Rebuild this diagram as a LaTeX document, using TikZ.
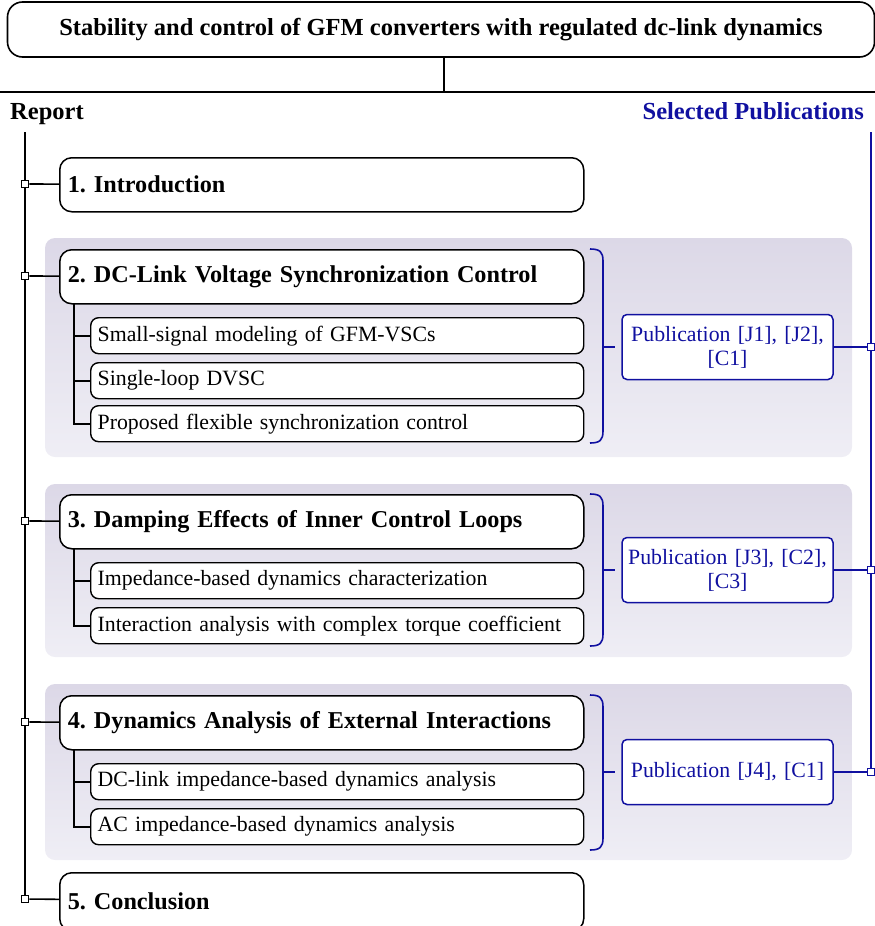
\documentclass[tikz,border=0pt]{standalone}
\usepackage{fontspec}
\setmainfont{Liberation Serif}
\usetikzlibrary{positioning}
\definecolor{pubblue}{RGB}{16,16,160}
\definecolor{paneltop}{RGB}{220,216,231}
\definecolor{panelbot}{RGB}{239,238,245}
\frenchspacing

\begin{document}
\begin{tikzpicture}[x=1pt,y=-1pt,
  titlebox/.style={draw, line width=1.6pt, rounded corners=15pt, minimum width=867pt, minimum height=55pt, font=\fontsize{24.5}{28}\selectfont\bfseries},
  mainbox/.style={draw, line width=1.5pt, rounded corners=12pt, fill=white, anchor=north west, minimum width=524pt, minimum height=54pt, text width=508pt, inner xsep=8pt, align=left, font=\fontsize{24.2}{28}\selectfont\bfseries},
  subbox/.style={draw, line width=1.4pt, rounded corners=8pt, fill=white, anchor=north west, minimum width=493pt, minimum height=36pt, text width=479pt, inner xsep=7pt, align=left, font=\fontsize{21.8}{25}\selectfont},
  pubbox/.style={draw=pubblue, text=pubblue, line width=1.5pt, rounded corners=5pt, fill=white, minimum width=211pt, minimum height=65pt, text width=205pt, inner xsep=3pt, align=center, font=\fontsize{21.8}{24}\selectfont},
  sq/.style={draw, line width=1.1pt, fill=white, minimum size=7.5pt, inner sep=0pt},
  panel/.style={rounded corners=10pt, top color=paneltop, bottom color=panelbot},
  tree/.style={line width=1.6pt},
  brace/.style={draw=pubblue, line width=1.6pt}
]
\useasboundingbox (0,0) rectangle (875,926);

% title and heading row
\node[titlebox] (title) at (441,29.5) {Stability and control of GFM converters with regulated dc-link dynamics};
\coordinate (split) at (444,92);
\draw[tree] (split |- title.south) -- (split);
\draw[tree] (0,92) -- (875,92);
\node[anchor=base west, inner sep=0pt, font=\fontsize{24.5}{28}\selectfont\bfseries] (report) at (10,119) {Report};
\node[anchor=base east, inner sep=0pt, text=pubblue, font=\fontsize{24.5}{28}\selectfont\bfseries] (selpub) at (864,119) {Selected Publications};

% shaded panels
\shade[panel] (45,238) rectangle (852,457);
\shade[panel] (45,484) rectangle (852,657);
\shade[panel] (45,684) rectangle (852,860);

% chapters
\node[mainbox] (intro) at (59,157) {1. Introduction};
\node[mainbox] (sec2) at (59,249) {2. DC-Link Voltage Synchronization Control};
\node[mainbox] (sec3) at (59,494) {3. Damping Effects of Inner Control Loops};
\node[mainbox] (sec4) at (59,695) {4. Dynamics Analysis of External Interactions};
\node[mainbox, minimum height=58pt] (concl) at (59,872) {5. Conclusion};

% sub topics
\node[subbox] (s21) at (90,317) {Small-signal modeling of GFM-VSCs};
\node[subbox] (s22) at (90,362) {Single-loop DVSC};
\node[subbox] (s23) at (90,405) {Proposed flexible synchronization control};
\node[subbox] (s31) at (90,562) {Impedance-based dynamics characterization};
\node[subbox] (s32) at (90,607) {Interaction analysis with complex torque coefficient};
\node[subbox] (s41) at (90,763) {DC-link impedance-based dynamics analysis};
\node[subbox] (s42) at (90,808) {AC impedance-based dynamics analysis};

\coordinate (t2) at (74,303);
\coordinate (t3) at (74,548);
\coordinate (t4) at (74,749);
\draw[tree] (t2) |- (s23.west);
\draw[tree] (s21.west) -| (t2);
\draw[tree] (s22.west) -| (t2);
\draw[tree] (t3) |- (s32.west);
\draw[tree] (s31.west) -| (t3);
\draw[tree] (t4) |- (s42.west);
\draw[tree] (s41.west) -| (t4);

% report spine
\coordinate (ltop) at (25,132);
\coordinate (lbot) at (25,899);
\draw[tree] (ltop) -- (lbot);
\node[sq] (ls1) at (25,184) {};
\node[sq] (ls2) at (25,276) {};
\node[sq] (ls3) at (25,521) {};
\node[sq] (ls4) at (25,722) {};
\node[sq] (ls5) at (25,899) {};
\draw[tree] (ls1) -- (intro);
\draw[tree] (ls2) -- (sec2);
\draw[tree] (ls3) -- (sec3);
\draw[tree] (ls4) -- (sec4);
\draw[tree] (ls5) -- (concl);

% braces
\draw[brace] (590,249) .. controls (600,249) and (603,252) .. (603,261) -- (603,431) .. controls (603,440) and (600,443) .. (590,443);
\draw[brace] (603,347) -- (615,347);
\draw[brace] (590,494) .. controls (600,494) and (603,497) .. (603,506) -- (603,634) .. controls (603,643) and (600,646) .. (590,646);
\draw[brace] (603,570) -- (615,570);
\draw[brace] (590,695) .. controls (600,695) and (603,698) .. (603,707) -- (603,838) .. controls (603,847) and (600,850) .. (590,850);
\draw[brace] (603,772) -- (615,772);

% publications
\node[pubbox] (pub2) at (727.5,347) {Publication [J1], [J2],\\\relax [C1]};
\node[pubbox] (pub3) at (727.5,570) {Publication [J3], [C2],\\\relax [C3]};
\node[pubbox] (pub4) at (727.5,772) {Publication [J4], [C1]};

\coordinate (rtop) at (871,132);
\draw[tree, pubblue] (rtop) -- (871,772);
\node[sq, draw=pubblue] (ps2) at (871,347) {};
\node[sq, draw=pubblue] (ps3) at (871,570) {};
\node[sq, draw=pubblue] (ps4) at (871,772) {};
\draw[tree, pubblue] (pub2) -- (ps2);
\draw[tree, pubblue] (pub3) -- (ps3);
\draw[tree, pubblue] (pub4) -- (ps4);
\end{tikzpicture}
\end{document}
